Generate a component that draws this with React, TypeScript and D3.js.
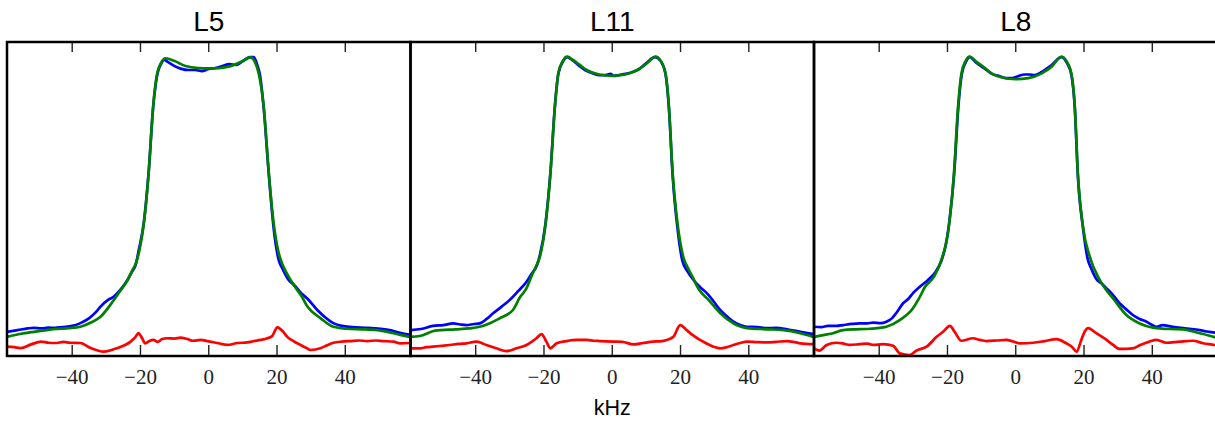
import React from "react";
import * as d3 from "d3";

type Pt = [number, number];

const PANEL_TITLES = ["L5", "L11", "L8"];
const X_TICKS = [-40, -20, 0, 20, 40];
const X_LABEL = "kHz";
const X_DOMAIN: [number, number] = [-59.1, 59.1];
const Y_DOMAIN: [number, number] = [-0.0714, 1.05];

// measured spectrum (blue)
const L5_DATA: Pt[] = [[-59.1,0.015],[-56,0.021],[-53,0.027],[-51.3,0.029],[-49,0.027],[-47,0.030],[-45,0.029],[-43,0.032],[-40,0.036],[-37.6,0.046],[-35,0.064],[-33,0.086],[-31.7,0.105],[-29.5,0.129],[-27.9,0.140],[-25.5,0.171],[-23.8,0.200],[-22.5,0.229],[-21.4,0.254],[-20.5,0.307],[-19,0.407],[-17.6,0.586],[-16.3,0.814],[-15.1,0.932],[-14,0.971],[-13,0.986],[-12,0.979],[-10,0.964],[-8,0.954],[-6,0.950],[-4,0.950],[-2,0.946],[0,0.954],[2,0.957],[4,0.964],[6,0.971],[8,0.968],[10,0.982],[12,0.996],[13.2,0.996],[14.2,0.968],[15,0.932],[16.1,0.814],[17.6,0.575],[19,0.386],[20.5,0.271],[21.5,0.243],[23.4,0.200],[25,0.182],[27,0.154],[29,0.132],[31.8,0.093],[34,0.068],[36.5,0.046],[39,0.036],[42,0.032],[46.4,0.029],[51,0.025],[53,0.021],[56,0.011],[59.1,0.004]];
const L11_DATA: Pt[] = [[-59.1,0.021],[-56,0.025],[-52.5,0.036],[-49.5,0.039],[-46.6,0.045],[-44.5,0.041],[-42.7,0.039],[-40.5,0.043],[-38.8,0.045],[-36.8,0.061],[-34.9,0.081],[-32.5,0.104],[-30,0.129],[-27.5,0.161],[-25.1,0.194],[-23.7,0.221],[-22,0.254],[-21.2,0.289],[-19.5,0.407],[-18.1,0.586],[-16.8,0.821],[-15.8,0.936],[-14.5,0.979],[-13.2,0.996],[-11.8,0.986],[-10,0.968],[-8,0.950],[-6,0.939],[-4,0.932],[-2,0.932],[-0.5,0.936],[0.5,0.929],[2,0.932],[4,0.936],[6,0.943],[8,0.954],[10,0.975],[12.5,0.996],[14.2,0.982],[15.6,0.936],[16.6,0.814],[17.7,0.571],[19.1,0.386],[20.5,0.271],[22,0.232],[23.8,0.200],[25.7,0.175],[27.7,0.153],[29.6,0.125],[31.6,0.093],[33.5,0.071],[35.5,0.051],[37.5,0.039],[39.4,0.033],[42.5,0.032],[45.3,0.028],[48,0.029],[51.2,0.024],[55.1,0.015],[59.1,0.006]];
const L8_DATA: Pt[] = [[-59.1,0.033],[-57,0.032],[-55,0.036],[-52.5,0.036],[-50.6,0.039],[-48,0.043],[-45.7,0.045],[-43.5,0.045],[-41.8,0.048],[-39.5,0.046],[-37.9,0.051],[-36.3,0.063],[-35,0.082],[-33,0.117],[-31.5,0.132],[-30.1,0.153],[-28.1,0.176],[-25.7,0.200],[-23.5,0.229],[-21.8,0.268],[-20.5,0.325],[-19.4,0.414],[-18,0.586],[-16.8,0.821],[-15.8,0.936],[-14.6,0.979],[-13.5,0.996],[-11.5,0.975],[-9,0.954],[-7,0.936],[-5,0.929],[-3,0.921],[-1,0.921],[1,0.929],[2.5,0.934],[4,0.934],[5.5,0.932],[7.6,0.943],[10.5,0.968],[13.4,0.996],[15,0.975],[16.3,0.932],[17.3,0.814],[18.2,0.571],[19.7,0.386],[21,0.279],[22.3,0.236],[23.6,0.204],[25,0.189],[26.6,0.170],[28.5,0.146],[30.4,0.117],[32.3,0.096],[34.3,0.075],[36.3,0.061],[38.3,0.051],[40,0.039],[41.2,0.033],[43,0.039],[44.1,0.037],[46.5,0.032],[49,0.028],[51.5,0.025],[53.9,0.021],[56,0.016],[58.3,0.012],[59.1,0.011]];

// model fit (green)
const L5_FIT: Pt[] = [[-59.1,-0.003],[-55,0.008],[-51.3,0.015],[-47,0.022],[-44.9,0.025],[-41,0.028],[-37.6,0.033],[-34.5,0.048],[-31.7,0.069],[-28,0.125],[-26,0.160],[-24,0.195],[-22.5,0.232],[-21.2,0.265],[-20.5,0.296],[-19,0.404],[-17.6,0.582],[-16.3,0.819],[-15.1,0.938],[-14,0.975],[-12.7,0.992],[-10,0.982],[-6.8,0.964],[-3,0.957],[0,0.956],[3,0.957],[6.4,0.964],[10,0.982],[12.2,0.995],[13.5,0.979],[14.6,0.939],[16.1,0.819],[17.6,0.582],[19,0.404],[20.5,0.296],[21.8,0.250],[23.4,0.212],[25,0.180],[27.3,0.140],[28.9,0.105],[32.7,0.064],[36.5,0.033],[41.5,0.025],[45,0.024],[49.4,0.021],[53,0.013],[56.1,0.004],[59.1,-0.004]];
const L11_FIT: Pt[] = [[-59.1,-0.003],[-56.4,0.000],[-51.9,0.019],[-46,0.024],[-42,0.027],[-38.8,0.033],[-36,0.045],[-33,0.063],[-29.1,0.093],[-27,0.139],[-25.1,0.171],[-23.7,0.212],[-22.3,0.250],[-21.2,0.283],[-19.5,0.403],[-18.1,0.581],[-16.8,0.819],[-15.8,0.938],[-14.5,0.982],[-13.2,0.998],[-11.5,0.986],[-9.5,0.968],[-7.5,0.950],[-3.6,0.933],[0,0.929],[3.4,0.933],[7.3,0.950],[10.2,0.974],[12.7,0.998],[14.2,0.982],[15.6,0.938],[16.6,0.819],[17.7,0.581],[19.1,0.404],[20.8,0.283],[22.3,0.240],[23.8,0.204],[25.5,0.164],[28,0.132],[31.6,0.082],[35.5,0.045],[39.4,0.028],[45.3,0.024],[50.2,0.021],[55.1,0.010],[59.1,-0.004]];
const L8_FIT: Pt[] = [[-59.1,-0.003],[-56,0.004],[-53.5,0.010],[-50.6,0.021],[-47,0.024],[-43.7,0.025],[-40.5,0.028],[-37.9,0.033],[-34,0.057],[-30.1,0.099],[-28.3,0.135],[-26.6,0.175],[-24,0.211],[-21.8,0.271],[-19.6,0.390],[-18.1,0.581],[-16.9,0.819],[-15.9,0.938],[-14.7,0.982],[-13.5,0.998],[-11.5,0.979],[-9,0.957],[-7.1,0.938],[-4.2,0.924],[0,0.917],[3.7,0.921],[7.6,0.938],[10.5,0.962],[13.4,0.998],[15,0.979],[16.3,0.938],[17.3,0.819],[18.2,0.581],[19.7,0.390],[21.7,0.283],[24.3,0.207],[26.5,0.164],[28.5,0.134],[32.4,0.075],[36.3,0.045],[40.2,0.030],[45,0.025],[49,0.024],[53.9,0.010],[56.5,0.002],[59.1,-0.007]];

// residual (red)
const L5_RESID: Pt[] = [[-59.1,-0.038],[-57,-0.040],[-55.1,-0.043],[-52,-0.030],[-49.1,-0.020],[-47,-0.024],[-44.9,-0.025],[-42.5,-0.021],[-40.7,-0.024],[-37.6,-0.025],[-34.6,-0.043],[-32.5,-0.052],[-30.8,-0.056],[-28.5,-0.050],[-26.7,-0.043],[-24.5,-0.032],[-22.9,-0.020],[-21.5,-0.004],[-20.6,0.010],[-19.7,-0.004],[-18.6,-0.026],[-17.4,-0.018],[-16.2,-0.014],[-15,-0.021],[-13.6,-0.011],[-12.1,-0.008],[-10,-0.009],[-8.3,-0.006],[-6.5,-0.010],[-4.5,-0.017],[-2.4,-0.014],[-0.4,-0.018],[2.5,-0.025],[5.5,-0.032],[8.4,-0.025],[11.3,-0.023],[13.3,-0.018],[15.1,-0.014],[17.2,-0.008],[18.6,0.000],[20.1,0.031],[21.6,0.018],[23,-0.003],[24.8,-0.018],[26.9,-0.032],[28.5,-0.042],[29.8,-0.050],[32.7,-0.044],[34.5,-0.034],[36.5,-0.024],[39,-0.020],[41.5,-0.018],[44,-0.016],[46.4,-0.018],[49,-0.016],[51.1,-0.018],[54.1,-0.020],[56.1,-0.026],[59.1,-0.025]];
const L11_RESID: Pt[] = [[-59.1,-0.044],[-56.4,-0.044],[-54.5,-0.040],[-52.5,-0.038],[-50,-0.035],[-47.6,-0.032],[-45,-0.028],[-42.7,-0.026],[-39.8,-0.020],[-38.3,-0.025],[-36.9,-0.032],[-33.9,-0.044],[-31,-0.054],[-28.1,-0.044],[-25.1,-0.032],[-22.2,-0.008],[-20.7,0.007],[-19.3,-0.020],[-18.1,-0.044],[-16.3,-0.026],[-13.4,-0.018],[-10.5,-0.014],[-7.5,-0.014],[-5.5,-0.017],[-3.6,-0.018],[0.3,-0.020],[3,-0.021],[6.2,-0.030],[9,-0.025],[12,-0.020],[14,-0.019],[16,-0.014],[17.9,-0.003],[19.9,0.039],[21.8,0.021],[23.5,0.004],[25.7,-0.014],[27.5,-0.026],[29.6,-0.038],[31.6,-0.044],[33.5,-0.040],[35.5,-0.032],[37.5,-0.025],[39.4,-0.020],[42.5,-0.022],[45.3,-0.023],[48,-0.021],[51.2,-0.018],[53.5,-0.022],[55.1,-0.026],[59.1,-0.029]];
const L8_RESID: Pt[] = [[-59.1,-0.044],[-57.5,-0.052],[-55.4,-0.032],[-52.5,-0.024],[-50.5,-0.027],[-48.6,-0.032],[-45.7,-0.029],[-43.5,-0.027],[-41.8,-0.032],[-38.8,-0.029],[-35.9,-0.035],[-34,-0.062],[-31,-0.068],[-29.1,-0.052],[-26.1,-0.038],[-23.2,-0.003],[-21.3,0.015],[-19.3,0.036],[-17.9,0.015],[-15.9,-0.017],[-12.5,-0.008],[-10.5,-0.014],[-8.6,-0.018],[-5.5,-0.016],[-2.7,-0.014],[1.2,-0.026],[5.1,-0.024],[8.5,-0.018],[11.9,-0.011],[14.8,-0.026],[16.5,-0.039],[17.8,-0.056],[19.2,-0.014],[20.3,0.018],[21.2,0.028],[23.6,0.010],[26.6,-0.014],[28.5,-0.032],[30.4,-0.046],[34.3,-0.044],[36.5,-0.032],[39.2,-0.020],[41.2,-0.014],[44.1,-0.024],[48,-0.020],[51.9,-0.017],[54.9,-0.026],[58.3,-0.032],[59.1,-0.034]];

const PANEL_DATA = [L5_DATA, L11_DATA, L8_DATA];
const PANEL_FIT = [L5_FIT, L11_FIT, L8_FIT];
const PANEL_RESID = [L5_RESID, L11_RESID, L8_RESID];

const W = 1215;
const H = 422;
const LEFT = 7;
const TOP = 42;
const PW = 403.5;
const PH = 314;

export default function App() {
  const y = d3.scaleLinear().domain(Y_DOMAIN).range([TOP + PH, TOP]);
  return (
    <svg width={W} height={H} style={{ position: "absolute", left: 0, top: 0, background: "#fff" }}>
      <defs>
        {PANEL_TITLES.map((t, i) => (
          <clipPath id={`clip${i}`} key={t}>
            <rect x={LEFT + i * PW} y={TOP} width={PW} height={PH} />
          </clipPath>
        ))}
      </defs>
      {PANEL_TITLES.map((title, i) => {
        const x0 = LEFT + i * PW;
        const x = d3.scaleLinear().domain(X_DOMAIN).range([x0, x0 + PW]);
        const line = d3
          .line<Pt>()
          .x((d) => x(d[0]))
          .y((d) => y(d[1]))
          .curve(d3.curveMonotoneX);
        return (
          <g key={title}>
            <g clipPath={`url(#clip${i})`}>
              <path d={line(PANEL_DATA[i]) || ""} fill="none" stroke="#0000ff" strokeWidth={2.7} strokeLinejoin="round" />
              <path d={line(PANEL_FIT[i]) || ""} fill="none" stroke="#008000" strokeWidth={2.7} strokeLinejoin="round" />
              <path d={line(PANEL_RESID[i]) || ""} fill="none" stroke="#ff0000" strokeWidth={2.7} strokeLinejoin="round" />
            </g>
            {X_TICKS.map((t) => (
              <g key={t}>
                <line x1={x(t)} x2={x(t)} y1={TOP} y2={TOP + 10} stroke="#222" strokeWidth={1.4} />
                <line x1={x(t)} x2={x(t)} y1={TOP + PH} y2={TOP + PH - 11} stroke="#222" strokeWidth={1.4} />
                <text
                  x={x(t)}
                  y={384}
                  textAnchor="middle"
                  fontFamily="'Liberation Serif', serif"
                  fontSize={21}
                  fill="#222"
                >
                  {t < 0 ? `\u2212${Math.abs(t)}` : `${t}`}
                </text>
              </g>
            ))}
            <rect x={x0} y={TOP} width={PW} height={PH} fill="none" stroke="#000" strokeWidth={2.5} />
            <text
              x={x0 + PW / 2}
              y={30.5}
              textAnchor="middle"
              fontFamily="'Liberation Sans', Arial, sans-serif"
              fontSize={28}
              fill="#000"
            >
              {title}
            </text>
          </g>
        );
      })}
      <text
        x={LEFT + 1.5 * PW}
        y={415}
        textAnchor="middle"
        fontFamily="'Liberation Sans', Arial, sans-serif"
        fontSize={21.5}
        fill="#000"
      >
        {X_LABEL}
      </text>
    </svg>
  );
}
